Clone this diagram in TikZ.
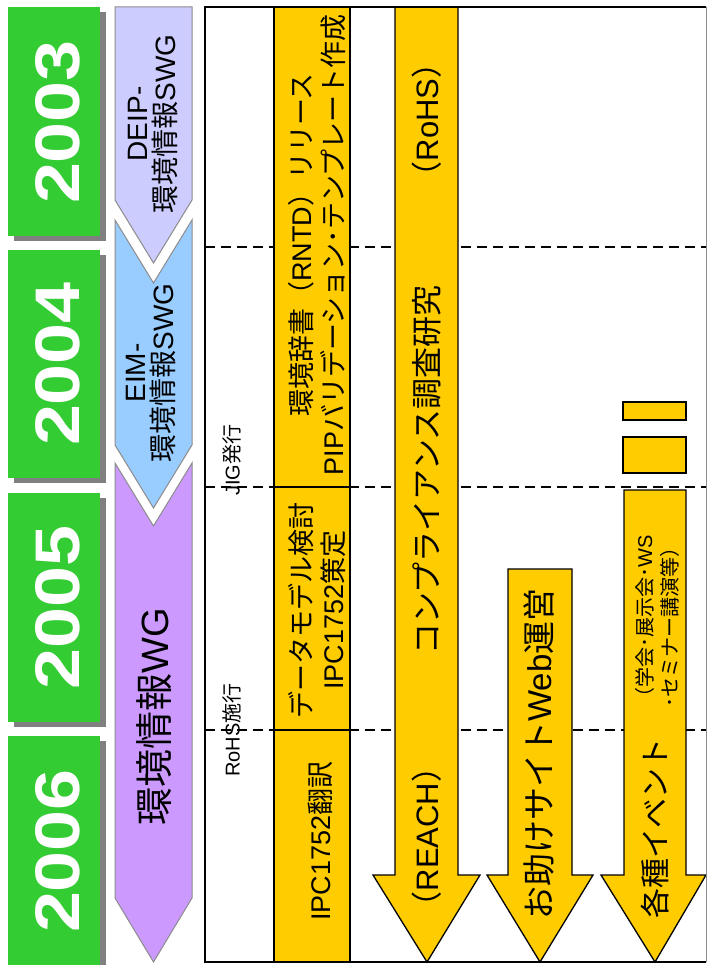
\documentclass[tikz,border=0pt]{standalone}
\usepackage{graphicx}
\usepackage{fontspec}
\setmainfont{Liberation Sans}
\newfontfamily\jpfont{Noto Sans CJK JP}
\newcommand{\jtx}[1]{{\jpfont #1}}
\definecolor{yrgreen}{HTML}{33CC33}
\definecolor{shadowgray}{HTML}{808080}
\definecolor{deipcol}{HTML}{CCCCFF}
\definecolor{eimcol}{HTML}{99CCFF}
\definecolor{wgcol}{HTML}{CC99FF}
\definecolor{gold}{HTML}{FFCC00}
\definecolor{edgegray}{HTML}{8C8C8C}
\begin{document}
\begin{tikzpicture}[x=1pt,y=-1pt,
  yeartext/.style={rotate=90,text=white,inner sep=0,font=\fontsize{63}{63}\selectfont\bfseries},
  chev/.style={draw=edgegray,line width=1pt},
  goldbox/.style={fill=gold,draw=black,line width=1.3pt,line join=miter},
  vtext/.style={rotate=90,inner sep=0,align=center},
  divline/.style={dash pattern=on 10pt off 6pt,line width=1.3pt}
]
\useasboundingbox (0,0) rectangle (707,965);
\fill[white] (0,0) rectangle (707,965);

% year boxes
\foreach \t/\b in {7/236, 250/478, 493/722, 736/965}{
  \fill[shadowgray] (14,\t+5) rectangle (106,\b+5);
  \fill[yrgreen] (8,\t) rectangle (100,\b);
}
\node[yeartext] (y2003) at (57.5,122) {\scalebox{1.17}[1]{2003}};
\node[yeartext] (y2004) at (57.5,364) {\scalebox{1.17}[1]{2004}};
\node[yeartext] (y2005) at (57.5,607.5) {\scalebox{1.17}[1]{2005}};
\node[yeartext] (y2006) at (57.5,851) {\scalebox{1.17}[1]{2006}};

% working group chevrons
\filldraw[chev,fill=deipcol] (115,7) -- (192,7) -- (192,200) -- (153.5,263) -- (115,200) -- cycle;
\filldraw[chev,fill=eimcol] (115,220) -- (153.5,283) -- (192,220) -- (192,445) -- (153.5,508) -- (115,445) -- cycle;
\filldraw[chev,fill=wgcol] (115,463) -- (153.5,526) -- (192,463) -- (192,898) -- (153.5,962) -- (115,898) -- cycle;
\node[vtext,font=\fontsize{28}{28}\selectfont] (deip) at (153,124) {DEIP-\\\jtx{環境情報}SWG};
\node[vtext,font=\fontsize{28}{28}\selectfont] (eim) at (151,373) {EIM-\\\jtx{環境情報}SWG};
\node[vtext,font=\fontsize{38}{38}\selectfont] (wg) at (154,717) {\jtx{環境情報}WG};

% table dividers
\foreach \yy in {247,487,730}{
  \draw[divline] (205,\yy) -- (706,\yy);
}

% column B boxes
\filldraw[goldbox] (274,7) rectangle (350,487);
\filldraw[goldbox] (274,487) rectangle (350,730);
\filldraw[goldbox] (274,730) rectangle (350,962);
\node[vtext,font=\fontsize{27}{32}\selectfont] (rntd) at (317,245)
  {\jtx{環境辞書（}RNTD\jtx{）リリース}\\PIP\jtx{バリデーション･テンプレート作成}};
\node[vtext,font=\fontsize{27}{32}\selectfont] (model) at (317,610)
  {\jtx{データモデル検討}\\IPC1752\jtx{策定}};
\node[vtext,font=\fontsize{27}{27}\selectfont] (transl) at (320,841) {IPC1752\jtx{翻訳}};

% event notes
\node[vtext,font=\fontsize{20}{20}\selectfont] (jig) at (232,460) {JIG\jtx{発行}};
\node[vtext,font=\fontsize{20}{20}\selectfont] (rohs) at (232,730) {RoHS\jtx{施行}};

% arrows
\filldraw[goldbox] (395,7) -- (458,7) -- (458,875) -- (480,875) -- (427,962) -- (373,875) -- (395,875) -- cycle;
\filldraw[goldbox] (508,569) -- (572,569) -- (572,875) -- (593,875) -- (540,962) -- (487,875) -- (508,875) -- cycle;
\filldraw[goldbox] (624,490) -- (686,490) -- (686,875) -- (706,875) -- (655,962) -- (601,875) -- (624,875) -- cycle;
\filldraw[goldbox] (623,402) rectangle (686,420);
\filldraw[goldbox] (623,437) rectangle (686,473);

\node[vtext,font=\fontsize{31}{31}\selectfont] (crohs) at (427,120) {\jtx{（}RoHS\jtx{）}};
\node[vtext,font=\fontsize{31}{31}\selectfont] (comp) at (427,470) {\jtx{コンプライアンス調査研究}};
\node[vtext,font=\fontsize{31}{31}\selectfont] (creach) at (427,837) {\jtx{（}REACH\jtx{）}};
\node[vtext,font=\fontsize{33}{33}\selectfont] (web) at (539,754) {\jtx{お助けサイト}Web\jtx{運営}};
\node[vtext,font=\fontsize{30}{30}\selectfont] (event) at (655,828) {\jtx{各種イベント}};
\node[vtext,align=left,font=\fontsize{20}{25}\selectfont] (eventsub) at (657,621)
  {\jtx{（学会･展示会･}WS\\\jtx{･セミナー講演等）}};

% outer border
\draw[line width=2.5pt] (706,7) -- (205,7) -- (205,962) -- (706,962);
\draw[edgegray,line width=1pt] (706,7) -- (706,962);
\end{tikzpicture}
\end{document}
